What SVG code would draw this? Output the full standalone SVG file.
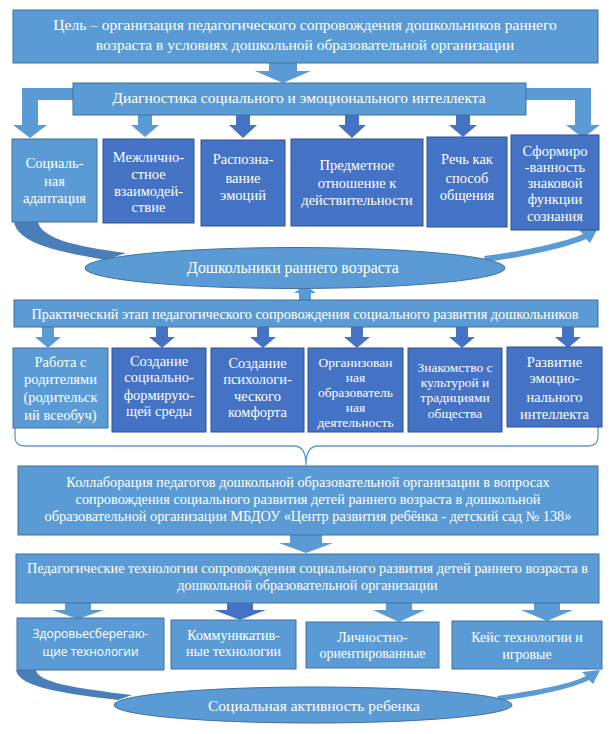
<svg xmlns="http://www.w3.org/2000/svg" width="616" height="734" viewBox="0 0 616 734">
<style>
.lb{fill:#5b9bd5;stroke:#41719c;stroke-width:1}
.db{fill:#4472c4;stroke:#2f528f;stroke-width:1}
.la{fill:#5b9bd5}
.da{fill:#4472c4}
.cv{fill:#4a7ebb}
.t{font-family:"Liberation Serif","Times New Roman",serif;fill:#fff;text-anchor:middle}
.s{font-family:"Open Sans","Noto Sans",sans-serif;fill:#fff;text-anchor:middle}
.br{fill:none;stroke:#5b9bd5;stroke-width:1.3}
</style>
<rect width="616" height="734" fill="#fff"/>
<g id="connectors">
<path class="la" d="M269,63 H297 V71 H311 L283,83 L255,71 H269 Z"/>
<path class="la" d="M73,88 H22 V125 H13 L30,138 L47,125 H38 V100 H73 Z"/>
<path class="la" d="M526,88 H591 V125 H600 L583,138 L566,125 H575 V100 H526 Z"/>
<path class="la" d="M138,115 H152 V125 H159 L145,137 L131,125 H138 Z"/>
<path class="da" d="M236,115 H250 V125 H257 L243,138 L229,125 H236 Z"/>
<path class="da" d="M345,115 H359 V125 H366 L352,138 L338,125 H345 Z"/>
<path class="da" d="M456,115 H470 V125 H477 L463,137 L449,125 H456 Z"/>
<path class="cv" d="M14,222 C18,244 60,252 106,260 L126,253 C72,246 42,238 38,222 Z"/>
<path class="la" d="M486,262 C530,256 568,247 586,239 L590,243 L599,226 L578,229 L583,234 C565,242 525,251 484,256 Z"/>
<path class="la" d="M299,300 V293 H294 L305,285 L316,293 H311 V300 Z"/>
<path class="la" d="M42,327 H54 V337 H61 L48,348 L35,337 H42 Z"/>
<path class="da" d="M156,327 H168 V337 H175 L162,348 L149,337 H156 Z"/>
<path class="da" d="M257,327 H269 V337 H276 L263,348 L250,337 H257 Z"/>
<path class="da" d="M351,327 H363 V337 H370 L357,348 L344,337 H351 Z"/>
<path class="da" d="M456,327 H468 V337 H475 L462,348 L449,337 H456 Z"/>
<path class="da" d="M562,327 H574 V337 H581 L568,348 L555,337 H562 Z"/>
<path class="br" d="M15,428 V437 Q15,446 25,446 H294 Q306,446 306,465 Q306,446 318,446 H588 Q598,446 598,437 V427"/>
<path class="la" d="M290,535 H322 V543 H333 L306,553 L279,543 H290 Z"/>
<path class="la" d="M65,603 H91 V610 H104 L78,619 L52,610 H65 Z"/>
<path class="da" d="M227,603 H253 V610 H266 L240,620 L214,610 H227 Z"/>
<path class="la" d="M386,603 H412 V610 H425 L399,622 L373,610 H386 Z"/>
<path class="la" d="M534,603 H560 V610 H573 L547,621 L521,610 H534 Z"/>
<path class="cv" d="M16,670 C19,688 68,694 118,700 L132,695 C72,688 38,682 36,670 Z"/>
<path class="la" d="M500,701 C543,695 573,688 589,680 L593,684 L600,670 L582,672 L586,676 C570,684 540,690 497,696 Z"/>
</g>
<g id="goal">
<rect class="lb" x="13" y="10" width="585" height="53"/>
<text class="t" font-size="15.5"><tspan x="305" y="30">Цель – организация педагогического сопровождения дошкольников раннего</tspan><tspan x="305" y="50">возраста в условиях дошкольной образовательной организации</tspan></text>
</g>
<g id="diagnostics">
<rect class="lb" x="73" y="83" width="453" height="32"/>
<text class="t" font-size="15.5" x="299" y="103">Диагностика социального и эмоционального интеллекта</text>
</g>
<g id="d1">
<rect class="lb" x="12" y="139" width="85" height="83"/>
<text class="t" font-size="14.5"><tspan x="54.5" y="168">Социаль-</tspan><tspan x="54.5" y="186">ная</tspan><tspan x="54.5" y="203">адаптация</tspan></text>
</g>
<g id="d2">
<rect class="db" x="103" y="139" width="91" height="84"/>
<text class="t" font-size="14.5"><tspan x="148.5" y="162">Межлично-</tspan><tspan x="148.5" y="179">стное</tspan><tspan x="148.5" y="196">взаимодей-</tspan><tspan x="148.5" y="212">ствие</tspan></text>
</g>
<g id="d3">
<rect class="db" x="201" y="140" width="84" height="86"/>
<text class="t" font-size="14.5"><tspan x="243" y="164">Распозна-</tspan><tspan x="243" y="183">вание</tspan><tspan x="243" y="200">эмоций</tspan></text>
</g>
<g id="d4">
<rect class="db" x="291" y="139" width="132" height="87"/>
<text class="t" font-size="14.5"><tspan x="357" y="170">Предметное</tspan><tspan x="357" y="188">отношение к</tspan><tspan x="357" y="205">действительности</tspan></text>
</g>
<g id="d5">
<rect class="db" x="427" y="137" width="80" height="90"/>
<text class="t" font-size="14.5"><tspan x="467" y="164">Речь как</tspan><tspan x="467" y="183">способ</tspan><tspan x="467" y="200">общения</tspan></text>
</g>
<g id="d6">
<rect class="db" x="511" y="135" width="88" height="95"/>
<text class="t" font-size="14.5"><tspan x="555" y="156">Сформиро</tspan><tspan x="555" y="172">-ванность</tspan><tspan x="555" y="188">знаковой</tspan><tspan x="555" y="204">функции</tspan><tspan x="555" y="221">сознания</tspan></text>
</g>
<g id="preschoolers">
<ellipse class="lb" cx="295" cy="268" rx="210" ry="20.5"/>
<text class="t" font-size="15.8" x="293" y="273">Дошкольники раннего возраста</text>
</g>
<g id="practical">
<rect class="lb" x="14" y="300" width="584" height="27"/>
<text class="t" font-size="14.3" x="305" y="319">Практический этап педагогического сопровождения социального развития дошкольников</text>
</g>
<g id="p1">
<rect class="lb" x="13" y="348" width="95" height="80"/>
<text class="t" font-size="14.5"><tspan x="60.5" y="367">Работа с</tspan><tspan x="60.5" y="384">родителями</tspan><tspan x="60.5" y="402">(родительск</tspan><tspan x="60.5" y="420">ий всеобуч)</tspan></text>
</g>
<g id="p2">
<rect class="db" x="112" y="348" width="94" height="84"/>
<text class="t" font-size="14.5"><tspan x="159" y="366">Создание</tspan><tspan x="159" y="382">социально-</tspan><tspan x="159" y="400">формирую-</tspan><tspan x="159" y="416">щей среды</tspan></text>
</g>
<g id="p3">
<rect class="db" x="211" y="348" width="93" height="84"/>
<text class="t" font-size="14.5"><tspan x="257.5" y="368">Создание</tspan><tspan x="257.5" y="384">психологи-</tspan><tspan x="257.5" y="401">ческого</tspan><tspan x="257.5" y="417">комфорта</tspan></text>
</g>
<g id="p4">
<rect class="db" x="308" y="348" width="95" height="84"/>
<text class="t" font-size="13.5"><tspan x="355.5" y="367">Организован</tspan><tspan x="355.5" y="382">ная</tspan><tspan x="355.5" y="397">образователь</tspan><tspan x="355.5" y="412">ная</tspan><tspan x="355.5" y="427">деятельность</tspan></text>
</g>
<g id="p5">
<rect class="db" x="408" y="348" width="94" height="84"/>
<text class="t" font-size="13.5"><tspan x="455" y="372">Знакомство с</tspan><tspan x="455" y="387">культурой и</tspan><tspan x="455" y="402">традициями</tspan><tspan x="455" y="418">общества</tspan></text>
</g>
<g id="p6">
<rect class="db" x="507" y="347" width="95" height="80"/>
<text class="t" font-size="14.5"><tspan x="554.5" y="367">Развитие</tspan><tspan x="554.5" y="383">эмоцио-</tspan><tspan x="554.5" y="402">нального</tspan><tspan x="554.5" y="419">интеллекта</tspan></text>
</g>
<g id="collaboration">
<rect class="lb" x="18" y="466" width="580" height="69"/>
<text class="t" font-size="14.3"><tspan x="308" y="487">Коллаборация педагогов дошкольной образовательной организации в вопросах</tspan><tspan x="308" y="504">сопровождения социального развития детей раннего возраста в дошкольной</tspan><tspan x="308" y="521">образовательной организации МБДОУ «Центр развития ребёнка - детский сад № 138»</tspan></text>
</g>
<g id="technologies">
<rect class="lb" x="16" y="554" width="583" height="49"/>
<text class="t" font-size="14.3"><tspan x="307.5" y="573">Педагогические технологии сопровождения социального развития детей раннего возраста в</tspan><tspan x="307.5" y="590">дошкольной образовательной организации</tspan></text>
</g>
<g id="t1">
<rect class="lb" x="17" y="618" width="147" height="52"/>
<text class="s" font-size="12.5"><tspan x="90.5" y="638" textLength="116" lengthAdjust="spacingAndGlyphs">Здоровьесберегаю-</tspan><tspan x="90.5" y="656" textLength="96" lengthAdjust="spacingAndGlyphs">щие технологии</tspan></text>
</g>
<g id="t2">
<rect class="lb" x="171" y="620" width="125" height="49"/>
<text class="t" font-size="14"><tspan x="233.5" y="640">Коммуникатив-</tspan><tspan x="233.5" y="656">ные технологии</tspan></text>
</g>
<g id="t3">
<rect class="lb" x="306" y="622" width="133" height="46"/>
<text class="t" font-size="14"><tspan x="372.5" y="642">Личностно-</tspan><tspan x="372.5" y="658">ориентированные</tspan></text>
</g>
<g id="t4">
<rect class="lb" x="452" y="621" width="150" height="48"/>
<text class="t" font-size="14"><tspan x="527" y="642">Кейс технологии и</tspan><tspan x="527" y="659">игровые</tspan></text>
</g>
<g id="activity">
<ellipse class="lb" cx="313" cy="705" rx="199" ry="18"/>
<text class="t" font-size="15.5" x="314" y="711">Социальная активность ребенка</text>
</g>
</svg>
